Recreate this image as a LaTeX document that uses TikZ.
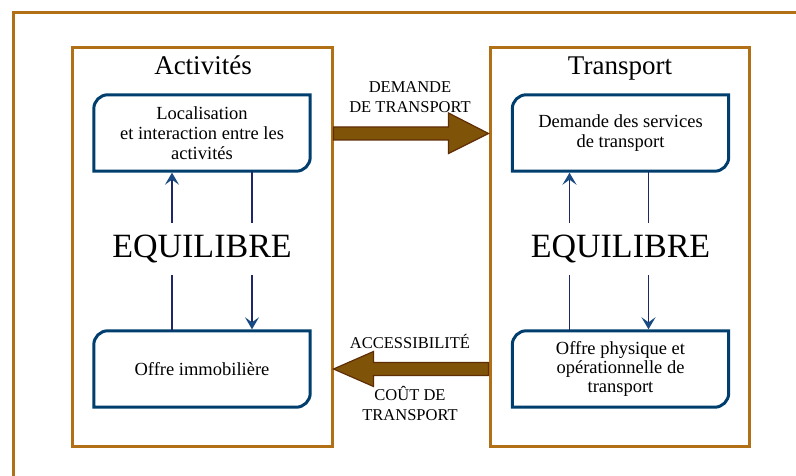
\documentclass[tikz,border=0pt]{standalone}
\usepackage{fontspec}
\setmainfont{Liberation Serif}
\usetikzlibrary{arrows.meta,calc}
\definecolor{frameC}{RGB}{178,112,22}
\definecolor{boxC}{RGB}{0,62,110}
\definecolor{connC}{RGB}{30,40,105}
\definecolor{tipC}{RGB}{25,75,130}
\definecolor{arrF}{RGB}{128,84,8}
\definecolor{arrD}{RGB}{95,45,5}
\newcommand\diagframe[1]{%
  \draw[boxline] (#1.north east) -- ([xshift=14pt]#1.north west)
    .. controls ([xshift=6.3pt]#1.north west) and ([yshift=-6.3pt]#1.north west) .. ([yshift=-14pt]#1.north west)
    -- (#1.south west) -- ([xshift=-14pt]#1.south east)
    .. controls ([xshift=-6.3pt]#1.south east) and ([yshift=6.3pt]#1.south east) .. ([yshift=14pt]#1.south east) -- cycle;}
\begin{document}
\begin{tikzpicture}[x=1pt,y=-1pt,
  frameline/.style={draw=frameC,line width=3pt},
  panel/.style={frameline,inner sep=0pt,minimum height=398pt},
  boxnode/.style={minimum width=216pt,minimum height=76pt,inner sep=0pt,align=center,font=\fontsize{18.5}{20}\selectfont},
  boxline/.style={draw=boxC,line width=3pt,line join=miter},
  conn/.style={draw=connC,line width=1.5pt},
  tipd/.style={-{Stealth[length=12pt,width=14pt,inset=5pt,color=tipC]},shorten >=1.5pt},
  eqnode/.style={minimum height=52pt,inner sep=0pt,font=\fontsize{34}{36}\selectfont},
  title/.style={font=\fontsize{27}{30}\selectfont,anchor=base,inner sep=0pt},
  caplabel/.style={font=\fontsize{16.5}{20}\selectfont,align=center,inner sep=0pt},
  bigarrow/.style={fill=arrF,draw=arrD,line width=1.2pt,line join=miter}
]
\useasboundingbox (0,0) rectangle (796,476);
\fill[white] (0,0) rectangle (796,476);
\draw[frameline] (13,13) rectangle (830,520);

% panels
\node[panel,minimum width=260pt] (actp) at (202,247) {};
\node[panel,minimum width=259pt] (trp) at (619.5,247) {};

% titles
\node[title] (tA) at (203,75) {Activités};
\node[title] (tT) at (620,75) {Transport};

% boxes
\node[boxnode] (loc) at (202,133) {Localisation\\et interaction entre les\\activités};
\node[boxnode] (imm) at (202,369) {Offre immobilière};
\node[boxnode] (dem) at (620.5,133) {Demande des services\\de transport};
\node[boxnode,font=\fontsize{18.5}{19}\selectfont] (off) at (620.5,369) {Offre physique et\\opérationnelle de\\transport};
\diagframe{loc}
\diagframe{imm}
\diagframe{dem}
\diagframe{off}

% equilibre
\node[eqnode] (eqL) at (202,249) {EQUILIBRE};
\node[eqnode] (eqR) at (620.5,249) {EQUILIBRE};

% vertical connectors left
\draw[conn,tipd] ([xshift=-30pt]eqL.north) -- ([xshift=-30pt]loc.south);
\draw[conn] ([xshift=50pt]loc.south) -- ([xshift=50pt]eqL.north);
\draw[conn] ([xshift=-30pt]imm.north) -- ([xshift=-30pt]eqL.south);
\draw[conn,tipd] ([xshift=50pt]eqL.south) -- ([xshift=50pt]imm.north);
% vertical connectors right
\draw[conn,tipd] ([xshift=-51pt]eqR.north) -- ([xshift=-51pt]dem.south);
\draw[conn] ([xshift=28pt]dem.south) -- ([xshift=28pt]eqR.north);
\draw[conn] ([xshift=-51pt]off.north) -- ([xshift=-51pt]eqR.south);
\draw[conn,tipd] ([xshift=28pt]eqR.south) -- ([xshift=28pt]off.north);

% big arrows
\coordinate (t1) at (actp.east |- 0,133.5);
\coordinate (t2) at (trp.west |- 0,133.5);
\draw[bigarrow] ($(t1)+(0,-6.5)$) -- ($(t2)+(-40,-6.5)$) -- ($(t2)+(-40,-20.5)$)
  -- (t2) -- ($(t2)+(-40,20)$) -- ($(t2)+(-40,6.5)$) -- ($(t1)+(0,6.5)$) -- cycle;
\coordinate (b1) at (trp.west |- 0,369);
\coordinate (b2) at (actp.east |- 0,369);
\draw[bigarrow] ($(b1)+(0,-6.5)$) -- ($(b2)+(40,-6.5)$) -- ($(b2)+(40,-17.5)$)
  -- (b2) -- ($(b2)+(40,17.5)$) -- ($(b2)+(40,6.5)$) -- ($(b1)+(0,6.5)$) -- cycle;

% labels
\node[caplabel] (ldem) at (410,97.5) {DEMANDE\\DE TRANSPORT};
\node[caplabel,anchor=base] (lacc) at (410,348) {ACCESSIBILITÉ};
\node[caplabel] (lcout) at (410,403) {COÛT DE\\TRANSPORT};
\end{tikzpicture}
\end{document}
